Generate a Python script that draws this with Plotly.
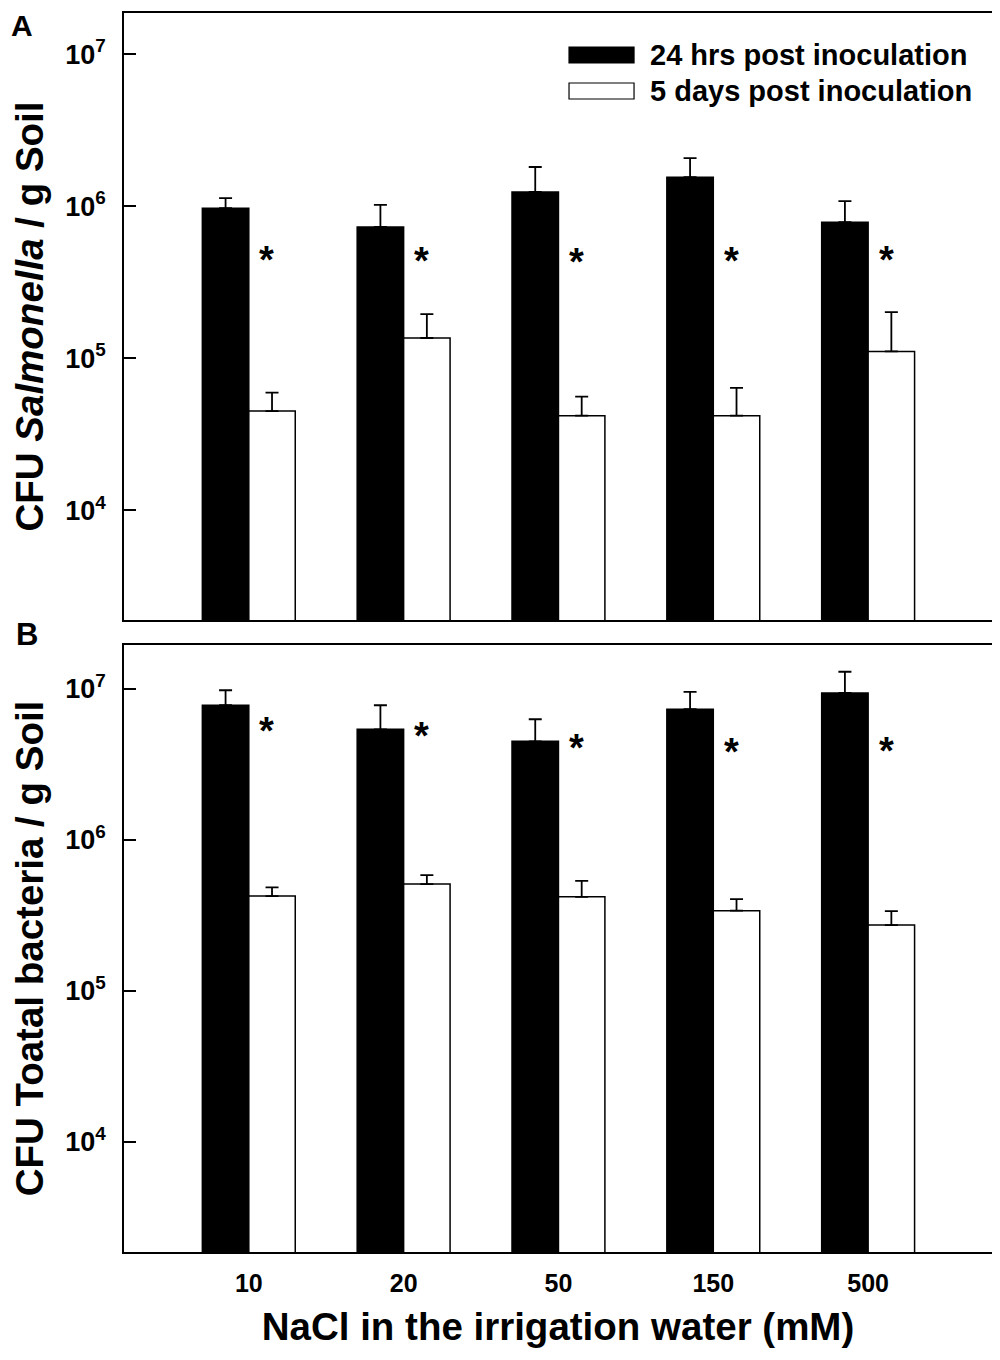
import numpy as np
import plotly.graph_objects as go

# ---------------- data ----------------
categories = ["10", "20", "50", "150", "500"]
series_names = ["24 hrs post inoculation", "5 days post inoculation"]

# Panel A: CFU Salmonella / g soil
a_24h = [9.7e5, 7.3e5, 1.24e6, 1.55e6, 7.85e5]
a_24h_err = [1.6e5, 2.9e5, 5.7e5, 5.2e5, 2.95e5]
a_5d = [4.5e4, 1.36e5, 4.2e4, 4.2e4, 1.11e5]
a_5d_err = [1.45e4, 5.9e4, 1.4e4, 2.2e4, 9.0e4]
a_star = [4.8e5, 4.7e5, 4.65e5, 4.7e5, 4.8e5]

# Panel B: CFU total bacteria / g soil
b_24h = [7.8e6, 5.4e6, 4.5e6, 7.35e6, 9.4e6]
b_24h_err = [2.0e6, 2.4e6, 1.8e6, 2.2e6, 3.6e6]
b_5d = [4.25e5, 5.1e5, 4.2e5, 3.4e5, 2.73e5]
b_5d_err = [6.0e4, 7.5e4, 1.15e5, 6.5e4, 6.5e4]
b_star = [5.7e6, 5.3e6, 4.4e6, 4.1e6, 4.2e6]

ytick_vals = [1e4, 1e5, 1e6, 1e7]
ytick_text = ["10<sup>4</sup>", "10<sup>5</sup>", "10<sup>6</sup>", "10<sup>7</sup>"]

y_title_a = "CFU <i>Salmonella</i> / g Soil"
y_title_b = "CFU Toatal bacteria / g Soil"
x_title = "NaCl in the irrigation water (mM)"
panel_labels = ["A", "B"]

FONT = "Liberation Sans, Arial, sans-serif"

fig = go.Figure()


def add_panel(xa, ya, v24, e24, v5, e5):
    fig.add_trace(go.Bar(
        x=categories, y=v24, name=series_names[0], xaxis=xa, yaxis=ya,
        marker=dict(color="black", line=dict(color="black", width=1.5)),
        error_y=dict(type="data", array=e24, arrayminus=[0] * len(e24), symmetric=False,
                     color="black", thickness=1.8, width=6.5),
        showlegend=False, offsetgroup="a"))
    fig.add_trace(go.Bar(
        x=categories, y=v5, name=series_names[1], xaxis=xa, yaxis=ya,
        marker=dict(color="white", line=dict(color="black", width=1.5)),
        error_y=dict(type="data", array=e5, arrayminus=[0] * len(e5), symmetric=False,
                     color="black", thickness=1.8, width=6.5),
        showlegend=False, offsetgroup="b"))


add_panel("x", "y", a_24h, a_24h_err, a_5d, a_5d_err)
add_panel("x2", "y2", b_24h, b_24h_err, b_5d, b_5d_err)

# significance asterisks (x given as category index)
for xref, yref, stars in (("x", "y", a_star), ("x2", "y2", b_star)):
    for i, s in enumerate(stars):
        fig.add_annotation(x=i, y=np.log10(s), xref=xref, yref=yref, text="*",
                           showarrow=False, xshift=18, yshift=-5,
                           font=dict(size=38, color="black", family=FONT, weight="bold"))

axis_common = dict(showline=True, linecolor="black", linewidth=1.5, mirror=True,
                   showgrid=False, zeroline=False, automargin=False)

xcommon = dict(axis_common, type="category", range=[-0.806, 4.8], ticks="")
fig.update_layout(
    xaxis=dict(xcommon, domain=[0, 1], anchor="y", showticklabels=False),
    xaxis2=dict(xcommon, domain=[0, 1], anchor="y2", showticklabels=True,
                tickfont=dict(size=25, family=FONT, color="black", weight="bold"),
                ticklabelstandoff=8,
                title=dict(text=x_title, standoff=17,
                           font=dict(size=38.5, family=FONT, color="black", weight="bold"))),
    yaxis=dict(axis_common, type="log", domain=[0.5101, 1.0], anchor="x", range=[3.28, 7.27],
               tickvals=ytick_vals, ticktext=ytick_text, ticks="inside", ticklen=12,
               tickwidth=2, tickcolor="black", ticklabelstandoff=11,
               tickfont=dict(size=27, family=FONT, color="black", weight="bold"),
               title=dict(text=y_title_a, standoff=16,
                          font=dict(size=38.5, family=FONT, color="black", weight="bold"))),
    yaxis2=dict(axis_common, type="log", domain=[0.0, 0.4899], anchor="x2", range=[3.271, 7.291],
                tickvals=ytick_vals, ticktext=ytick_text, ticks="inside", ticklen=12,
                tickwidth=2, tickcolor="black", ticklabelstandoff=11,
                tickfont=dict(size=27, family=FONT, color="black", weight="bold"),
                title=dict(text=y_title_b, standoff=16,
                           font=dict(size=38.5, family=FONT, color="black", weight="bold"))),
    barmode="group", bargap=0.4, bargroupgap=0,
    width=992, height=1352,
    margin=dict(l=116, r=8, t=5, b=108, autoexpand=False),
    paper_bgcolor="white", plot_bgcolor="white",
    font=dict(family=FONT, color="black"),
)

# panel labels
fig.add_annotation(x=-0.131, y=1.004, xref="paper", yref="paper", text=panel_labels[0],
                   showarrow=False, xanchor="left", yanchor="top", borderpad=0,
                   font=dict(size=30, family=FONT, color="black", weight="bold"))
fig.add_annotation(x=-0.127, y=0.498, xref="paper", yref="paper", text=panel_labels[1],
                   showarrow=False, xanchor="left", yanchor="middle",
                   font=dict(size=31, family=FONT, color="black", weight="bold"))

# legend (drawn as key boxes + labels inside panel A)
key_fill = ["black", "white"]
key_rows = [(0.9176, 0.944), (0.8583, 0.8847)]
for i, name in enumerate(series_names):
    y0, y1 = key_rows[i]
    fig.add_shape(type="rect", xref="x domain", yref="y domain",
                  x0=0.5127, x1=0.5876, y0=y0, y1=y1,
                  fillcolor=key_fill[i], line=dict(color="black", width=1.2))
    fig.add_annotation(x=0.604, y=(y0 + y1) / 2, xref="x domain", yref="y domain",
                       text=name, showarrow=False, xanchor="left", yanchor="middle",
                       font=dict(size=29, family=FONT, color="black", weight="bold"))

fig.write_html("out.html")
